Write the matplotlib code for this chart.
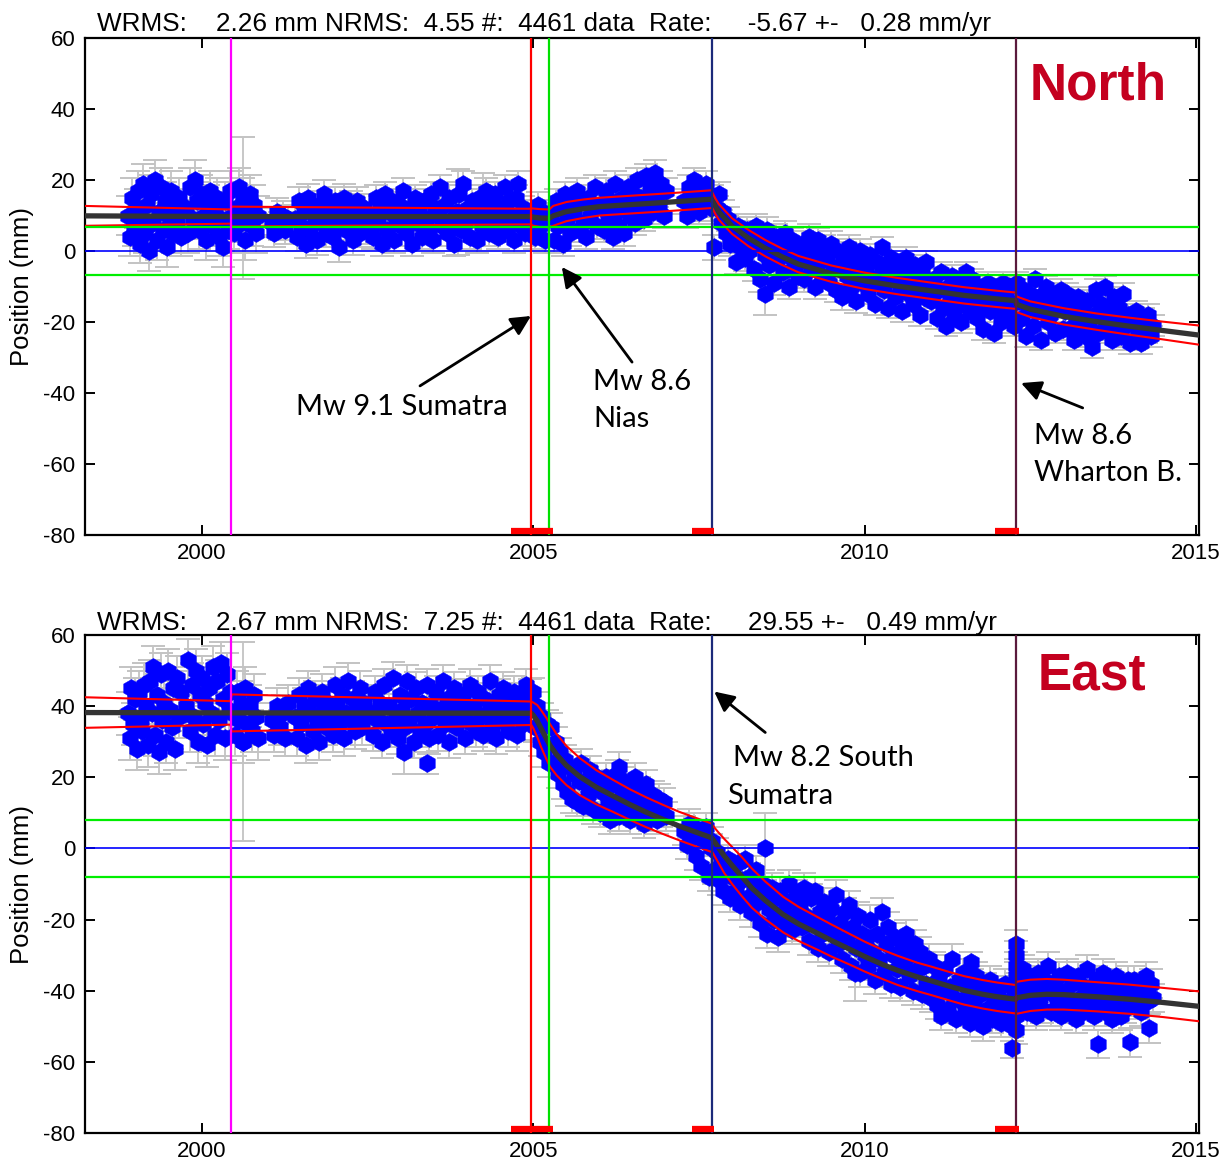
import numpy as np
import matplotlib
matplotlib.use('Agg')
import matplotlib.pyplot as plt

plt.rcParams['axes.unicode_minus'] = False

# ---------------- axes / reference values ----------------
x_ticks = [2000, 2005, 2010, 2015]
y_ticks = [-80, -60, -40, -20, 0, 20, 40, 60]
x_range = (1998.235, 2015.045)
y_range = (-80, 60)

event_times = [2000.44, 2004.97, 2005.24, 2007.69, 2012.28]
event_colors = ['#ff00ff', '#ff0000', '#00e000', '#1c2a7a', '#5a1a3c']
bar_start = [2004.67, 2007.40, 2011.97]
bar_end = [2005.29, 2007.73, 2012.33]

# ---------------- NORTH component ----------------
north_title = "WRMS:    2.26 mm NRMS:  4.55 #:  4461 data  Rate:     -5.67 +-   0.28 mm/yr"
north_band = 6.78

north_seg_t = [(1998.88, 1999.68), (1999.76, 2000.85), (2001.05, 2001.30), (2001.40, 2002.48),
               (2002.55, 2004.95), (2004.99, 2005.22), (2005.27, 2006.00), (2006.03, 2007.00),
               (2007.28, 2007.68), (2007.70, 2008.00), (2008.02, 2009.00), (2009.02, 2010.00),
               (2010.02, 2011.00), (2011.02, 2012.26), (2012.30, 2013.00), (2013.02, 2014.00),
               (2014.02, 2014.35)]
north_seg_v = [
    [10, 4, 15, 7, 12, 17, 2, 9, 19, 5, 13, 0, 16, 8, 20, 3, 11, 18, 6, 14, 1, 10, 17, 5, 12, 8, 15, 4],
    [12, 5, 18, 9, 20, 14, 6, 16, 10, 3, 13, 17, 7, 11, 15, 4, 9, 1, 14, 6, 17, 10, 5, 12, 18, 8, 15, 3,
     11, 16, 7, 13, 5, 10],
    [8, 5, 11, 7, 10, 6, 9],
    [9, 4, 14, 7, 11, 2, 15, 6, 12, 9, 3, 13, 8, 16, 5, 10, 12, 4, 14, 7, 1, 11, 15, 6, 9, 13, 3, 10, 14,
     5, 8, 12, 6],
    [10, 4, 15, 8, 12, 2, 16, 6, 11, 14, 3, 9, 13, 7, 17, 5, 10, 12, 2, 15, 8, 11, 4, 14, 9, 6, 16, 3, 12,
     10, 18, 7, 13, 5, 15, 9, 2, 11, 16, 6, 19, 8, 12, 4, 14, 10, 3, 15, 7, 11, 17, 5, 13, 9, 16, 4, 12,
     8, 18, 6, 14, 10, 3, 15, 19, 7, 12, 5, 11, 9],
    [9, 4, 13, 7, 11, 3, 10],
    [10, 3, 14, 7, 12, 2, 16, 9, 5, 13, 11, 17, 6, 14, 8, 4, 15, 10, 12, 18, 7, 13],
    [12, 6, 17, 9, 14, 4, 19, 11, 7, 15, 5, 13, 18, 10, 16, 8, 20, 12, 15, 9, 21, 14, 18, 11, 22, 16, 13,
     19, 10, 17],
    [14, 10, 18, 12, 20, 15, 11, 17, 13, 19, 16, 12],
    [15, 1, 12, 16, 8, 11, 5, 9, 2, 6],
    [3, -3, 7, 1, 5, -2, 6, 0, 4, -5, 7, 2, -8, 3, -1, 6, -4, 1, -9, 4, -2, 2, -6, 5, -1, -10, 3, -4, 0, -7],
    [-3, 2, -8, -1, 4, -5, 0, -10, 3, -3, -7, 1, -2, -9, 2, -5, -11, 0, -4, -13, -1, -7, 1, -10, -3, -14,
     -6, 0, -9, -4],
    [-6, -12, -1, -9, -15, -3, -7, 1, -11, -5, -16, -2, -8, -13, -4, -10, -17, -6, -2, -12, -8, -15, -4,
     -10, -18, -6, -13, -3, -9, -14],
    [-13, -8, -19, -11, -6, -16, -21, -10, -14, -7, -18, -12, -9, -20, -15, -6, -11, -17, -8, -13, -19,
     -10, -15, -22, -12, -9, -17, -14, -23, -11, -16, -20, -9, -13, -18, -10, -15, -21],
    [-9, -14, -19, -11, -24, -16, -12, -21, -8, -17, -13, -25, -15, -10, -20, -18, -12, -23, -14, -16, -11, -22],
    [-17, -12, -22, -15, -25, -19, -13, -21, -16, -24, -14, -20, -27, -18, -11, -23, -15, -19, -10, -22,
     -17, -25, -13, -20, -16, -24, -12, -21, -18, -26],
    [-20, -25, -17, -22, -26, -19, -23, -18, -24, -21],
]
north_seg_err = [5.5, 5.5, 4, 4, 3.5, 3.5, 3.5, 3.5, 3.5, 3.5, 3.5, 3.5, 3, 3, 3, 3, 3]
north_out_t = [2000.62, 2003.87, 2004.24, 2008.50]
north_out_v = [12, 11, 13, -12]
north_out_e = [20, 12, 9, 6]

north_model_t = [1998.23, 2000.43, 2000.45, 2004.97, 2004.98, 2005.10, 2005.24, 2005.30, 2005.50,
                 2005.75, 2006.00, 2006.50, 2007.00, 2007.69, 2007.70, 2007.75, 2007.80, 2007.90,
                 2008.00, 2008.25, 2008.50, 2008.75, 2009.00, 2009.50, 2010.00, 2010.50, 2011.00,
                 2011.50, 2012.00, 2012.28, 2012.29, 2012.50, 2013.00, 2013.50, 2014.00, 2014.50, 2015.05]
north_model_v = [9.9, 9.7, 9.7, 9.7, 9.6, 9.3, 9.2, 9.9, 11.1, 11.9, 12.5, 13.1, 13.7, 14.6, 14.3, 12.5,
                 11.0, 9.0, 7.0, 3.6, 0.8, -1.6, -3.7, -6.4, -8.4, -9.9, -11.2, -12.5, -13.5, -14.0,
                 -15.0, -16.4, -18.4, -19.9, -21.2, -22.4, -23.7]
north_model_hw = [2.8, 2.0, 2.8, 2.2, 2.4, 2.5, 2.5, 2.8, 2.7, 2.6, 2.5, 2.5, 2.5, 2.5, 2.2, 2.2, 2.2,
                  2.2, 2.2, 2.3, 2.3, 2.3, 2.3, 2.3, 2.3, 2.3, 2.3, 2.3, 2.3, 2.3, 2.2, 2.2, 2.3, 2.3,
                  2.4, 2.5, 2.7]

# ---------------- EAST component ----------------
east_title = "WRMS:    2.67 mm NRMS:  7.25 #:  4461 data  Rate:     29.55 +-   0.49 mm/yr"
east_band = 8.01

east_seg_t = [(1998.88, 1999.68), (1999.76, 2000.43), (2000.46, 2000.85), (2001.05, 2001.30),
              (2001.40, 2002.48), (2002.55, 2004.95), (2004.99, 2005.24), (2005.27, 2006.00),
              (2006.03, 2007.00), (2007.28, 2007.68), (2007.70, 2008.00), (2008.02, 2009.00),
              (2009.02, 2010.00), (2010.02, 2011.00), (2011.02, 2012.25), (2012.28, 2012.28),
              (2012.32, 2013.00), (2013.02, 2014.00), (2014.02, 2014.35)]
east_seg_v = [
    [38, 31, 45, 35, 42, 28, 44, 36, 33, 46, 40, 29, 47, 38, 51, 32, 43, 27, 49, 36, 41, 30, 50, 39, 34,
     45, 28, 48, 37, 44],
    [40, 53, 33, 46, 37, 50, 30, 43, 48, 35, 41, 29, 45, 38, 51, 32, 47, 36, 52, 42, 31, 49, 39, 44],
    [38, 32, 44, 36, 41, 30, 45, 35, 40, 33, 43, 37, 31],
    [36, 32, 40, 34, 38, 31, 41],
    [37, 31, 43, 35, 40, 29, 45, 38, 33, 42, 36, 30, 44, 39, 34, 41, 37, 32, 46, 40, 35, 43, 31, 38, 47,
     36, 42, 33, 39, 45, 34, 41, 37],
    [38, 32, 44, 36, 41, 30, 46, 35, 40, 33, 48, 37, 31, 43, 39, 34, 47, 36, 42, 30, 45, 38, 33, 41, 35,
     46, 31, 40, 37, 44, 32, 39, 47, 35, 42, 30, 38, 45, 34, 41, 36, 43, 31, 39, 46, 35, 40, 33, 44, 37,
     32, 42, 38, 47, 34, 40, 31, 43, 36, 45, 39, 33, 41, 37, 44, 32, 38, 42, 35, 46, 39, 43],
    [44, 34, 40, 30, 37, 27, 35, 24],
    [34, 24, 30, 21, 27, 18, 25, 16, 23, 14, 21, 13, 19, 24, 12, 18, 15, 22, 11, 17, 20, 10],
    [16, 10, 20, 13, 8, 18, 12, 21, 9, 15, 19, 11, 17, 8, 14, 20, 10, 16, 12, 7, 18, 13, 9, 15, 11, 8, 14,
     10, 13, 9],
    [5, 1, 7, 3, 6, -2, 4, -5, 2, 6, -8, 0],
    [2, -6, -1, -9, -4, -12, -6, -3, -14, -8],
    [-6, -12, -4, -16, -9, -3, -14, -8, -18, -11, -6, -15, -21, -10, -13, -24, -17, -11, -20, -14, -25,
     -12, -18, -22, -15, -10, -23, -19, -13, -21],
    [-16, -22, -11, -19, -26, -14, -21, -12, -28, -18, -24, -15, -20, -29, -17, -23, -13, -27, -21, -31,
     -18, -25, -16, -33, -22, -28, -19, -35, -24, -30],
    [-26, -33, -20, -29, -37, -24, -31, -18, -35, -27, -22, -38, -30, -25, -34, -39, -28, -32, -24, -36,
     -30, -40, -27, -34, -29, -41, -33, -38, -31, -42],
    [-38, -33, -44, -36, -47, -40, -34, -45, -39, -31, -42, -48, -37, -43, -35, -46, -40, -49, -38, -44,
     -36, -47, -41, -50, -39, -45, -37, -48, -42, -46, -40, -49, -43, -38, -47, -44, -50, -41],
    [-27, -30, -33, -36, -39, -43, -47, -51],
    [-38, -44, -34, -41, -46, -36, -43, -39, -47, -35, -42, -45, -37, -40, -33, -46, -41, -38, -44, -36,
     -47, -42],
    [-40, -35, -45, -38, -43, -48, -36, -42, -46, -39, -34, -44, -41, -47, -37, -43, -40, -35, -46, -42,
     -38, -48, -44, -36, -41, -47, -39, -45, -37, -43],
    [-41, -37, -44, -39, -46, -40, -36, -43, -38, -42],
]
east_seg_err = [6, 6, 6, 5, 5, 4.5, 4, 4, 4, 4, 4, 4, 4, 4, 4, 4, 4, 4, 4]
east_out_t = [2000.62, 2003.05, 2003.40, 2006.30, 2008.50, 2009.85, 2011.60, 2012.22, 2013.52, 2014.00, 2014.29]
east_out_v = [30, 27, 24, 23, 0, -35, -32, -56, -55, -54.5, -50.6]
east_out_e = [28, 6, 3, 4, 10, 8, 3, 3, 4, 4, 4]

east_model_t = [1998.23, 2000.43, 2000.45, 2004.97, 2005.00, 2005.06, 2005.12, 2005.20, 2005.25, 2005.35,
                2005.50, 2005.70, 2005.95, 2006.20, 2006.45, 2006.70, 2006.95, 2007.20, 2007.45, 2007.69,
                2007.70, 2007.78, 2007.88, 2008.00, 2008.15, 2008.30, 2008.50, 2008.77, 2009.00, 2009.28,
                2009.50, 2009.78, 2010.00, 2010.28, 2010.50, 2010.79, 2011.00, 2011.29, 2011.50, 2011.78,
                2012.00, 2012.28, 2012.29, 2012.50, 2012.75, 2013.00, 2013.50, 2014.00, 2014.50, 2015.05]
east_model_v = [38.2, 38.1, 38.1, 38.0, 37.4, 35.8, 33.6, 30.8, 29.0, 26.4, 23.3, 20.2, 17.2, 14.8, 12.4,
                10.2, 8.2, 6.3, 4.6, 3.0, 2.8, 0.6, -2.1, -4.8, -8.0, -11.2, -14.6, -18.6, -21.2, -23.8,
                -25.9, -28.4, -30.4, -32.7, -34.3, -36.1, -37.2, -38.8, -39.9, -41.0, -41.7, -42.4, -42.0,
                -41.3, -41.0, -41.1, -41.7, -42.4, -43.3, -44.4]
east_model_hw = [4.3, 3.3, 5.2, 3.3, 3.6, 4.5, 5.2, 5.8, 6.0, 5.8, 5.5, 5.2, 4.8, 4.5, 4.3, 4.2, 4.1, 4.0,
                 4.0, 4.0, 3.8, 4.2, 4.8, 5.2, 5.5, 5.5, 5.3, 5.0, 4.8, 4.6, 4.5, 4.3, 4.2, 4.1, 4.1, 4.0,
                 4.0, 4.0, 4.0, 4.0, 4.0, 4.0, 4.5, 4.4, 4.3, 4.2, 4.1, 4.1, 4.1, 4.2]

# ---------------- annotations ----------------
north_notes = [  # (text, x, y)
    ("Mw 9.1 Sumatra", 2001.42, -46.2),
    ("Mw 8.6", 2005.90, -39.2),
    ("Nias", 2005.90, -49.6),
    ("Mw 8.6", 2012.555, -54.4),
    ("Wharton B.", 2012.555, -64.8),
]
north_arrows = [  # (head x, head y, tail x, tail y)
    (2004.965, -18.3, 2003.29, -38.0),
    (2005.43, -4.5, 2006.49, -31.3),
    (2012.36, -37.2, 2013.29, -44.2),
]
east_notes = [
    ("Mw 8.2 South", 2008.01, 23.05),
    ("Sumatra", 2007.92, 12.4),
]
east_arrows = [
    (2007.73, 44.1, 2008.50, 32.6),
]

# ---------------- drawing ----------------
W, H = 1229, 1165
fig = plt.figure(figsize=(W / 100, H / 100), dpi=100)
ax1 = fig.add_axes([85 / W, 1 - 535 / H, 1114 / W, 497 / H])
ax2 = fig.add_axes([85 / W, 1 - 1133 / H, 1114 / W, 498 / H])

TXT = 'Liberation Sans'
NOTE_FONT = ['Lato', 'DejaVu Sans']


def panel(ax, seg_t, seg_v, seg_err, out_t, out_v, out_e, mt, mv, mhw, band,
          title, name, name_xy, notes, arrows, title_y):
    t_all, v_all, e_all = [], [], []
    for (t0, t1), vals, e in zip(seg_t, seg_v, seg_err):
        t_all.extend(np.linspace(t0, t1, len(vals)))
        v_all.extend(vals)
        e_all.extend([e] * len(vals))
    t_all.extend(out_t)
    v_all.extend(out_v)
    e_all.extend(out_e)
    ax.errorbar(t_all, v_all, yerr=e_all, fmt='none', ecolor='#c3c3c3',
                elinewidth=1.3, capsize=8.5, capthick=1.4, zorder=1)
    ax.plot(t_all, v_all, linestyle='none', marker='h', ms=13,
            mfc='#0000ff', mec='#0000ff', mew=0.3, zorder=2)

    mt = np.array(mt)
    mv = np.array(mv)
    mhw = np.array(mhw)
    ax.plot(mt, mv, color='#333333', lw=3.8, zorder=3, solid_capstyle='butt')
    ax.plot(mt, mv + mhw, color='#ff0000', lw=1.5, zorder=4)
    ax.plot(mt, mv - mhw, color='#ff0000', lw=1.5, zorder=4)

    ax.axhline(0, color='#0000ff', lw=1.2, zorder=5)
    ax.axhline(band, color='#00ee00', lw=1.6, zorder=5)
    ax.axhline(-band, color='#00ee00', lw=1.6, zorder=5)
    for et, ec in zip(event_times, event_colors):
        ax.axvline(et, color=ec, lw=1.6, zorder=6)
    for b0, b1 in zip(bar_start, bar_end):
        ax.plot([b0, b1], [-78.9, -78.9], color='#ff0000', lw=4.5,
                solid_capstyle='butt', zorder=7, clip_on=False)

    ax.set_xlim(*x_range)
    ax.set_ylim(*y_range)
    ax.set_xticks(x_ticks)
    ax.set_yticks(y_ticks)
    ax.tick_params(direction='in', length=7, width=1.4, top=True, right=True,
                   labelsize=16)
    ax.tick_params(axis='x', pad=6)
    ax.tick_params(axis='y', pad=7)
    for lab in ax.get_xticklabels() + ax.get_yticklabels():
        lab.set_fontfamily(TXT)
    for sp in ax.spines.values():
        sp.set_linewidth(1.6)
    ax.set_ylabel('Position (mm)', fontsize=18.5, family=TXT)
    ax.yaxis.set_label_coords(-0.046, 0.5)

    ax.text(0.0108, title_y, title, transform=ax.transAxes, fontsize=18.8,
            family=TXT, ha='left', va='baseline')
    ax.text(name_xy[0], name_xy[1], name, transform=ax.transAxes, fontsize=37,
            family=TXT, fontweight='bold',
            color='#c4001f', ha='left', va='baseline', zorder=10)
    for txt, x, y in notes:
        ax.text(x, y, txt, fontsize=21, family=NOTE_FONT, ha='left', va='baseline', zorder=10)
    for hx, hy, tx, ty in arrows:
        ax.annotate('', xy=(hx, hy), xytext=(tx, ty),
                    arrowprops=dict(arrowstyle='-|>', color='black', lw=2.0,
                                    mutation_scale=30, shrinkA=0, shrinkB=0),
                    zorder=10)


panel(ax1, north_seg_t, north_seg_v, north_seg_err, north_out_t, north_out_v, north_out_e,
      north_model_t, north_model_v, north_model_hw, north_band, north_title, 'North',
      (0.848, 0.877), north_notes, north_arrows, 1.0141)
panel(ax2, east_seg_t, east_seg_v, east_seg_err, east_out_t, east_out_v, east_out_e,
      east_model_t, east_model_v, east_model_hw, east_band, east_title, 'East',
      (0.855, 0.8896), east_notes, east_arrows, 1.0100)

fig.savefig('out.png', dpi=100)
